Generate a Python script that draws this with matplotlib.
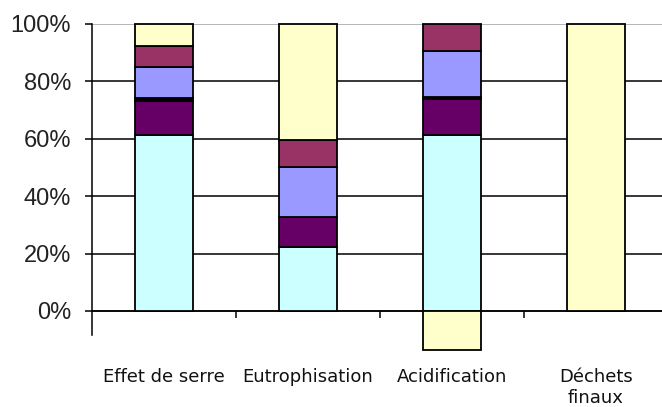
import matplotlib
matplotlib.use("Agg")
import matplotlib.pyplot as plt
import numpy as np

categories = ["Effet de serre", "Eutrophisation", "Acidification", "Déchets\nfinaux"]

# Stacked shares (%) per category, bottom to top
s_cyan    = [61.3, 22.3, 61.3, 0.0]
s_plum    = [11.9, 10.5, 12.6, 0.0]
s_black   = [1.0, 0.0, 0.7, 0.0]
s_blue    = [10.8, 17.4, 16.0, 0.0]
s_magenta = [7.3, 9.4, 9.4, 0.0]
s_yellow  = [7.7, 40.4, -13.6, 100.0]

series = [s_cyan, s_plum, s_black, s_blue, s_magenta, s_yellow]
colors = ["#CCFFFF", "#660066", "#000000", "#9999FF", "#993366", "#FFFFCC"]

ytick_vals = [0, 20, 40, 60, 80, 100]
ytick_labels = ["0%", "20%", "40%", "60%", "80%", "100%"]

plt.rcParams["font.family"] = ["Liberation Sans", "DejaVu Sans"]

fig = plt.figure(figsize=(6.62, 4.07), dpi=100)
ax = fig.add_axes([92 / 662, 1 - 335 / 407, 576 / 662, 311 / 407])

x = np.arange(len(categories))
pos_base = np.zeros(len(categories))
neg_base = np.zeros(len(categories))
for vals, col in zip(series, colors):
    vals = np.array(vals, dtype=float)
    bottoms = np.where(vals >= 0, pos_base, neg_base)
    ax.bar(x, vals, width=0.40, bottom=bottoms, color=col,
           edgecolor="black", linewidth=1.3, zorder=3, clip_on=False)
    pos_base += np.where(vals > 0, vals, 0)
    neg_base += np.where(vals < 0, vals, 0)

ax.set_xlim(-0.5, 3.5)
ax.set_ylim(-8.4, 100)

# Horizontal gridlines
ax.set_yticks(ytick_vals)
ax.set_yticklabels(ytick_labels)
ax.yaxis.grid(True, color="black", linewidth=1.1, zorder=0)
ax.get_ygridlines()[-1].set_color("#a0a0a0")
ax.tick_params(axis="y", direction="out", length=5, width=1.1,
               labelsize=17, pad=10, colors="black")
for lbl in ax.get_yticklabels():
    lbl.set_color("#222222")

# Category axis crossing at zero
ax.spines["bottom"].set_position(("data", 0))
ax.spines["bottom"].set_linewidth(1.1)
ax.spines["top"].set_visible(False)
ax.spines["right"].set_visible(False)
ax.spines["left"].set_linewidth(1.1)
ax.set_xticks(x)
ax.set_xticklabels(categories, fontsize=13, linespacing=1.2,
                   family=["DejaVu Sans"])
ax.set_xticks(np.arange(0.5, len(categories), 1.0), minor=True)
ax.tick_params(axis="x", which="major", length=0, pad=41)
ax.tick_params(axis="x", which="minor", direction="out", length=5, width=1.1)
for lbl in ax.get_xticklabels():
    lbl.set_color("#111111")

fig.savefig("out.png", dpi=100, facecolor="white")
